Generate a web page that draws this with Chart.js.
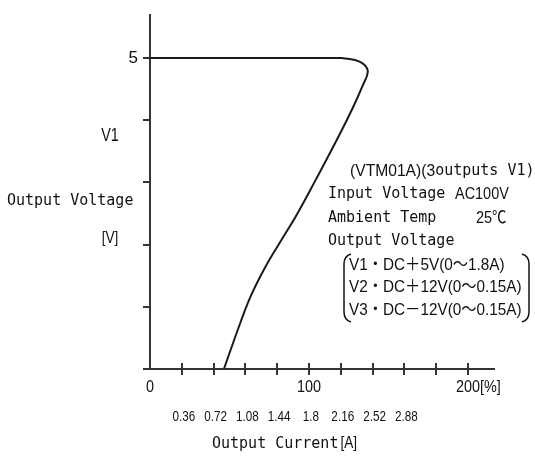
<!DOCTYPE html>
<html>
<head>
<meta charset="utf-8">
<script src="https://cdn.jsdelivr.net/npm/chart.js@4.4.1/dist/chart.umd.min.js"></script>
<style>
  html, body { margin: 0; padding: 0; background: #fff; }
  #wrap { width: 535px; height: 459px; position: relative; }
</style>
</head>
<body>
<div id="wrap"><canvas id="c" width="535" height="459"></canvas></div>
<script>
// ---- data ----
const loadPercent = [0, 60, 110, 121, 129, 134.5, 137, 134, 127, 116.4, 104.4, 92.5, 81.8, 72.3, 63.5, 56.5, 46.5];
const outputVolt  = [5, 5, 5, 5, 4.97, 4.9, 4.78, 4.57, 4.17, 3.63, 3.05, 2.49, 2.04, 1.63, 1.18, 0.72, 0];
const xTickValues = [0, 20, 40, 60, 80, 100, 120, 140, 160, 180, 200];
const xPercentLabels = { 0: '0', 100: '100', 200: '200' };
const xCurrentValues = [20, 40, 60, 80, 100, 120, 140, 160];
const xCurrentLabels = ['0.36', '0.72', '1.08', '1.44', '1.8', '2.16', '2.52', '2.88'];
const yTickValues = [0, 1, 2, 3, 4, 5];
const yTickLabels = { 5: '5' };
const specLines = ['V1・DC＋5V(0～1.8A)', 'V2・DC＋12V(0～0.15A)', 'V3・DC－12V(0～0.15A)'];

const points = loadPercent.map((x, i) => ({ x: x, y: outputVolt[i] }));

const MONO = '"DejaVu Sans Mono", "Liberation Mono", monospace';
const SANS = '"Liberation Sans", Arial, "Noto Sans CJK JP", sans-serif';
const INK = '#111';
const AXIS = '#333';

// draw horizontally condensed text (real canvas text)
function ctext(ctx, s, x, y, size, align, sx) {
  ctx.save();
  ctx.font = size + 'px ' + SANS;
  ctx.textAlign = align;
  ctx.textBaseline = 'middle';
  ctx.translate(x, y);
  ctx.scale(sx, 1);
  ctx.fillText(s, 0, 0);
  const w = ctx.measureText(s).width * sx;
  ctx.restore();
  return w;
}

const annot = {
  id: 'annot',
  afterDraw(chart) {
    const ctx = chart.ctx;
    const xs = chart.scales.x;
    const ys = chart.scales.y;
    const axisY = ys.getPixelForValue(0);
    ctx.save();
    // x tick marks crossing the axis
    ctx.strokeStyle = AXIS;
    ctx.lineWidth = 2;
    xTickValues.forEach(v => {
      if (v === 0) return;
      const px = Math.round(xs.getPixelForValue(v));
      ctx.beginPath();
      ctx.moveTo(px, axisY - 6);
      ctx.lineTo(px, axisY + 6);
      ctx.stroke();
    });
    ctx.fillStyle = INK;
    // row 1: percent
    Object.keys(xPercentLabels).forEach(k => {
      ctext(ctx, xPercentLabels[k], xs.getPixelForValue(+k), axisY + 19, 16, 'center', 0.9);
    });
    const p200 = xs.getPixelForValue(200);
    ctx.font = '16px ' + SANS;
    const w200 = ctx.measureText('200').width * 0.9;
    ctext(ctx, '[%]', p200 + w200 / 2, axisY + 19, 16, 'left', 0.9);
    // row 2: current
    xCurrentValues.forEach((v, i) => {
      ctext(ctx, xCurrentLabels[i], xs.getPixelForValue(v) + 2, axisY + 48, 15, 'center', 0.78);
    });
    // x title
    ctx.textBaseline = 'middle';
    ctx.textAlign = 'left';
    ctx.font = '15px ' + MONO;
    ctx.fillText('Output Current', 212, axisY + 75);
    let w = ctx.measureText('Output Current').width;
    ctext(ctx, '[A]', 212 + w + 2, axisY + 75, 16, 'left', 0.85);

    // y titles
    ctext(ctx, 'V1', 110, 136, 18, 'center', 0.8);
    ctext(ctx, '[V]', 110, 238, 17, 'center', 0.8);
    ctx.textAlign = 'left';
    ctx.font = '15px ' + MONO;
    ctx.fillText('Output Voltage', 7, 201);

    // spec block
    w = ctext(ctx, '(VTM01A)(3', 350, 171, 17, 'left', 0.92);
    ctx.font = '15px ' + MONO;
    ctx.textAlign = 'left';
    ctx.fillText('outputs V1)', 350 + w, 171);

    ctx.fillText('Input Voltage', 328, 194);
    ctx.fillText('Ambient Temp', 328, 218);
    ctx.fillText('Output Voltage', 328, 241);
    ctext(ctx, 'AC100V', 455, 194, 17, 'left', 0.85);
    ctext(ctx, '25℃', 476, 218, 17, 'left', 0.85);

    specLines.forEach((s, i) => {
      ctext(ctx, s, 349, 265 + i * 22.5, 17, 'left', 0.9);
    });

    // brackets
    ctx.strokeStyle = INK;
    ctx.lineWidth = 1.5;
    ctx.beginPath();
    ctx.moveTo(351, 254);
    ctx.quadraticCurveTo(344, 256, 344, 264);
    ctx.lineTo(344, 312);
    ctx.quadraticCurveTo(344, 320, 351, 322);
    ctx.stroke();
    ctx.beginPath();
    ctx.moveTo(522, 254);
    ctx.quadraticCurveTo(529, 256, 529, 264);
    ctx.lineTo(529, 312);
    ctx.quadraticCurveTo(529, 320, 522, 322);
    ctx.stroke();
    ctx.restore();
  }
};

new Chart(document.getElementById('c'), {
  type: 'scatter',
  data: {
    datasets: [{
      data: points,
      showLine: true,
      borderColor: '#1a1a1a',
      borderWidth: 2,
      pointRadius: 0,
      tension: 0.4,
      fill: false
    }]
  },
  options: {
    responsive: false,
    animation: false,
    events: [],
    layout: { padding: { top: 13, right: 41, left: 0, bottom: 0 } },
    plugins: { legend: { display: false }, tooltip: { enabled: false } },
    scales: {
      x: {
        type: 'linear',
        min: 0,
        max: 216.4,
        afterBuildTicks: s => { s.ticks = xTickValues.map(v => ({ value: v })); },
        afterFit: s => { s.height = 90; },
        grid: { display: false },
        border: { display: true, color: AXIS, width: 2 },
        ticks: { display: false }
      },
      y: {
        type: 'linear',
        min: 0,
        max: 5.69,
        afterBuildTicks: s => { s.ticks = yTickValues.map(v => ({ value: v })); },
        afterFit: s => { s.width = 150; },
        grid: { display: true, drawOnChartArea: false, drawTicks: true, tickLength: 7, color: AXIS, lineWidth: 2 },
        border: { display: true, color: AXIS, width: 2 },
        ticks: {
          padding: 5,
          color: INK,
          font: { family: SANS, size: 17 },
          callback: v => yTickLabels[v] || ''
        }
      }
    }
  },
  plugins: [annot]
});
</script>
</body>
</html>
